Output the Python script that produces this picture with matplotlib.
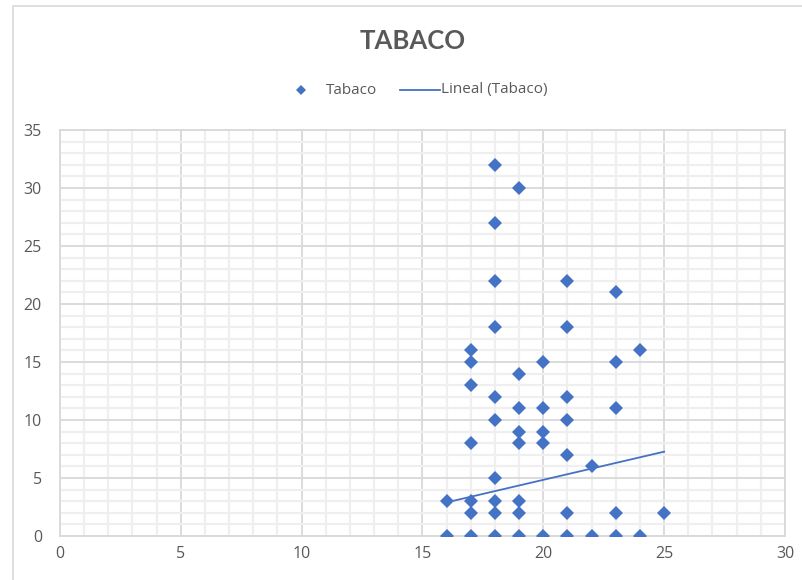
import matplotlib
matplotlib.use("Agg")
import matplotlib.pyplot as plt
from matplotlib.lines import Line2D
from matplotlib.ticker import MultipleLocator
import numpy as np

plt.rcParams['font.family'] = ['Open Sans', 'DejaVu Sans']

# Data
tabaco_x = [16, 16,
            17, 17, 17, 17, 17, 17, 17,
            18, 18, 18, 18, 18, 18, 18, 18, 18, 18,
            19, 19, 19, 19, 19, 19, 19, 19,
            20, 20, 20, 20, 20,
            21, 21, 21, 21, 21, 21, 21,
            22, 22,
            23, 23, 23, 23, 23,
            24, 24,
            25]
tabaco_y = [3, 0,
            16, 15, 13, 8, 3, 2, 0,
            32, 27, 22, 18, 12, 10, 5, 3, 2, 0,
            30, 14, 11, 9, 8, 3, 2, 0,
            15, 11, 9, 8, 0,
            22, 18, 12, 10, 7, 2, 0,
            6, 0,
            21, 15, 11, 2, 0,
            16, 0,
            2]
# Linear trendline endpoints
trend_x = [16, 25]
trend_y = [2.9, 7.27]

title = "TABACO"
series_label = "Tabaco"
trend_label = "Lineal (Tabaco)"

W, H = 803, 580
fig = plt.figure(figsize=(W / 100, H / 100), dpi=100)
ax = fig.add_axes([60 / W, (H - 536) / H, 725 / W, 406 / H])

blue = "#4472C4"
txt = "#595959"

ax.plot(tabaco_x, tabaco_y, linestyle='none', marker='D', markersize=7.2,
        color=blue, markeredgewidth=0, zorder=3, label=series_label)
ax.plot(trend_x, trend_y, color=blue, linewidth=1.3, zorder=4, label=trend_label)

ax.set_xlim(0, 30)
ax.set_ylim(0, 35)
ax.xaxis.set_major_locator(MultipleLocator(5))
ax.yaxis.set_major_locator(MultipleLocator(5))
ax.xaxis.set_minor_locator(MultipleLocator(1))
ax.yaxis.set_minor_locator(MultipleLocator(1))
ax.grid(which='minor', color='#efefef', linewidth=1.6, zorder=0)
ax.grid(which='major', color='#d9d9d9', linewidth=1.3, zorder=1)
ax.set_axisbelow(True)
for s in ax.spines.values():
    s.set_color('#d9d9d9')
    s.set_linewidth(1.3)
ax.tick_params(which='both', length=0)
ax.tick_params(axis='x', pad=7, labelsize=11.5, labelcolor=txt)
ax.tick_params(axis='y', pad=13, labelsize=11.5, labelcolor=txt)

fig.text(413 / W, 1 - 41 / H, title, ha='center', va='center',
         fontsize=18.5, fontweight='bold', color=txt, family=['Lato', 'DejaVu Sans'])


def fx(px):
    return px / W


def fy(py):
    return 1 - py / H


# Legend (drawn in figure pixels to match the reference layout)
fig.add_artist(Line2D([fx(301)], [fy(90)], linestyle='none', marker='D',
                      markersize=5.5, color=blue, markeredgewidth=0,
                      transform=fig.transFigure))
fig.text(fx(326), fy(90), series_label, ha='left', va='center',
         fontsize=11, color=txt)
fig.add_artist(Line2D([fx(400), fx(440)], [fy(90), fy(90)], color=blue,
                      linewidth=1.3, transform=fig.transFigure))
fig.text(fx(441), fy(90), trend_label, ha='left', va='center',
         fontsize=11, color=txt)

# chart-area border
fig.add_artist(Line2D([13 / W, 13 / W, 1.0], [0, 1 - 6 / H, 1 - 6 / H],
                      transform=fig.transFigure, color='#d9d9d9', linewidth=1.2))

fig.savefig("out.png", dpi=100, facecolor='white')
